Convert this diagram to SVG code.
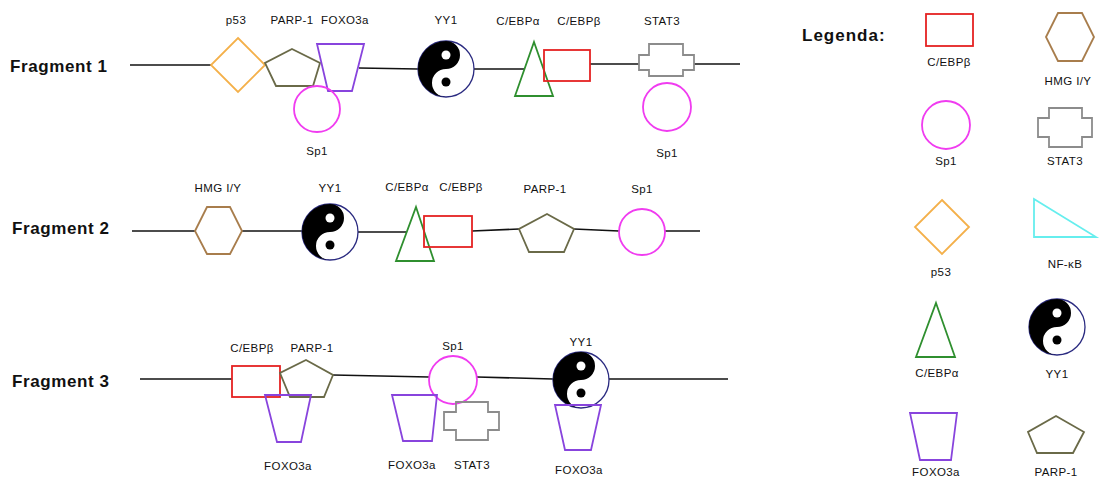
<svg xmlns="http://www.w3.org/2000/svg" xmlns:xlink="http://www.w3.org/1999/xlink" width="1104" height="479" viewBox="0 0 1104 479">
<style>
.lbl{font-family:"Liberation Sans",Arial,sans-serif;font-size:11.5px;text-anchor:middle;fill:#111;letter-spacing:0.4px}
.frag{font-family:"Liberation Sans",Arial,sans-serif;font-size:17px;font-weight:bold;fill:#111;letter-spacing:0.6px}
.leg{font-family:"Liberation Sans",Arial,sans-serif;font-size:17px;font-weight:bold;fill:#111;letter-spacing:1px}
.line{stroke:#111;stroke-width:1.6;fill:none}
.p53{fill:none;stroke:#F4B04A;stroke-width:1.8}
.parp{fill:none;stroke:#6A6A48;stroke-width:1.8}
.foxo{fill:none;stroke:#8844DD;stroke-width:1.8}
.sp1{fill:none;stroke:#F03CF0;stroke-width:1.8}
.cebpa{fill:none;stroke:#2F8F2F;stroke-width:1.8}
.cebpb{fill:none;stroke:#E52222;stroke-width:1.8}
.stat3{fill:none;stroke:#8C8C8C;stroke-width:1.8}
.hmg{fill:none;stroke:#A87D4C;stroke-width:1.8}
.nfkb{fill:none;stroke:#66EEEE;stroke-width:1.8}
</style>
<defs>
<g id="yy">
<circle cx="0" cy="0" r="28" fill="#fff" stroke="#2A2A80" stroke-width="1.3"/>
<path d="M0,-28 A28,28 0 0 0 0,28 A14,14 0 0 1 0,0 A14,14 0 0 0 0,-28 Z" fill="#000"/>
<circle cx="0" cy="-14" r="4.5" fill="#fff"/>
<circle cx="0" cy="13" r="4.5" fill="#000"/>
</g>
</defs>

<g id="connectors">
<polyline class="line" points="130,65 211,65"/>
<polyline class="line" points="359,68 418,69"/>
<polyline class="line" points="474,69 524,69"/>
<polyline class="line" points="590,64 639,64"/>
<polyline class="line" points="694,64 740,64"/>

<polyline class="line" points="132,231 195,231"/>
<polyline class="line" points="242,231 303,231"/>
<polyline class="line" points="358,232 406,232"/>
<polyline class="line" points="472,231 519,229"/>
<polyline class="line" points="574,229 619,231"/>
<polyline class="line" points="665,231 700,231"/>

<polyline class="line" points="140,379 232,379"/>
<polyline class="line" points="333,375 429,377"/>
<polyline class="line" points="477,377 553,379"/>
<polyline class="line" points="609,379 728,379"/>
</g>

<!-- Fragment 1 -->
<g id="fragment1-label"><text class="frag" x="10" y="72">Fragment 1</text></g>
<g id="f1-p53"><polygon class="p53" points="238,38 265,65 238,92 211,65"/><text class="lbl" x="236" y="24">p53</text></g>
<g id="f1-parp1"><polygon class="parp" points="292,49 320,63 313,86 276,86 265,63"/><text class="lbl" x="292" y="24">PARP-1</text></g>
<g id="f1-foxo3a"><polygon class="foxo" points="317,44 364,44 352,91 328,91"/><text class="lbl" x="345" y="24">FOXO3a</text></g>
<g id="f1-sp1"><circle class="sp1" cx="317" cy="109" r="23"/><text class="lbl" x="317" y="155">Sp1</text></g>
<g id="f1-yy1"><use xlink:href="#yy" x="446" y="69"/><text class="lbl" x="446" y="24">YY1</text></g>
<g id="f1-cebpa"><polygon class="cebpa" points="534,42 553,96 515,96"/><text class="lbl" x="518" y="25">C/EBPα</text></g>
<g id="f1-cebpb"><rect class="cebpb" x="544" y="50" width="46" height="31"/><text class="lbl" x="579" y="25">C/EBPβ</text></g>
<g id="f1-stat3"><path class="stat3" d="M649,44 H683 V55 H694 V70 H683 V76 H649 V70 H639 V55 H649 Z"/><text class="lbl" x="662" y="25">STAT3</text></g>
<g id="f1-sp1b"><circle class="sp1" cx="667" cy="107" r="24"/><text class="lbl" x="667" y="157">Sp1</text></g>

<!-- Fragment 2 -->
<g id="fragment2-label"><text class="frag" x="12" y="234">Fragment 2</text></g>
<g id="f2-hmg"><polygon class="hmg" points="195,231 207,207 230,207 242,231 230,254 207,254"/><text class="lbl" x="218" y="192">HMG I/Y</text></g>
<g id="f2-yy1"><use xlink:href="#yy" x="330" y="232"/><text class="lbl" x="330" y="192">YY1</text></g>
<g id="f2-cebpa"><polygon class="cebpa" points="416,207 434,261 396,261"/><text class="lbl" x="407" y="191">C/EBPα</text></g>
<g id="f2-cebpb"><rect class="cebpb" x="424" y="216" width="48" height="31"/><text class="lbl" x="461" y="191">C/EBPβ</text></g>
<g id="f2-parp1"><polygon class="parp" points="547,214 574,229 564,252 529,252 519,229"/><text class="lbl" x="545" y="193">PARP-1</text></g>
<g id="f2-sp1"><circle class="sp1" cx="642" cy="232" r="23"/><text class="lbl" x="642" y="193">Sp1</text></g>

<!-- Fragment 3 -->
<g id="fragment3-label"><text class="frag" x="12" y="387">Fragment 3</text></g>
<g id="f3-cebpb"><rect class="cebpb" x="232" y="366" width="48" height="31"/><text class="lbl" x="252" y="352">C/EBPβ</text></g>
<g id="f3-parp1"><polygon class="parp" points="306,360 333,375 324,397 290,397 280,373"/><text class="lbl" x="312" y="352">PARP-1</text></g>
<g id="f3-foxo3a"><polygon class="foxo" points="265,395 311,395 301,442 277,442"/><text class="lbl" x="288" y="470">FOXO3a</text></g>
<g id="f3-sp1"><circle class="sp1" cx="453" cy="380" r="24"/><text class="lbl" x="453" y="350">Sp1</text></g>
<g id="f3-foxo3a-b"><polygon class="foxo" points="392,395 437,395 432,441 403,441"/><text class="lbl" x="412" y="469">FOXO3a</text></g>
<g id="f3-stat3"><path class="stat3" d="M456,402 H488 V412 H499 V430 H488 V440 H456 V430 H444 V412 H456 Z"/><text class="lbl" x="472" y="469">STAT3</text></g>
<g id="f3-yy1"><use xlink:href="#yy" x="581" y="380"/><text class="lbl" x="581" y="346">YY1</text></g>
<g id="f3-foxo3a-c"><polygon class="foxo" points="555,405 601,405 591,450 565,450"/><text class="lbl" x="579" y="474">FOXO3a</text></g>

<!-- Legend -->
<g id="legend-title"><text class="leg" x="802" y="41">Legenda:</text></g>
<g id="leg-cebpb"><rect class="cebpb" x="926" y="14" width="47" height="32"/><text class="lbl" x="949" y="66">C/EBPβ</text></g>
<g id="leg-hmg"><polygon class="hmg" points="1046,37 1058,13 1082,13 1094,37 1082,61 1058,61"/><text class="lbl" x="1068" y="85">HMG I/Y</text></g>
<g id="leg-sp1"><circle class="sp1" cx="946" cy="125" r="24"/><text class="lbl" x="946" y="165">Sp1</text></g>
<g id="leg-stat3"><path class="stat3" d="M1049,108 H1082 V118 H1092 V137 H1082 V147 H1049 V137 H1038 V118 H1049 Z"/><text class="lbl" x="1065" y="165">STAT3</text></g>
<g id="leg-p53"><polygon class="p53" points="942,200 969,227 942,254 915,227"/><text class="lbl" x="941" y="276">p53</text></g>
<g id="leg-nfkb"><polygon class="nfkb" points="1034,199 1096,237 1034,237"/><text class="lbl" x="1065" y="268">NF-κB</text></g>
<g id="leg-cebpa"><polygon class="cebpa" points="936,303 955,357 916,357"/><text class="lbl" x="937" y="377">C/EBPα</text></g>
<g id="leg-yy1"><use xlink:href="#yy" x="1057" y="327"/><text class="lbl" x="1057" y="378">YY1</text></g>
<g id="leg-foxo3a"><polygon class="foxo" points="910,413 957,413 951,460 920,460"/><text class="lbl" x="936" y="476">FOXO3a</text></g>
<g id="leg-parp1"><polygon class="parp" points="1056,416 1084,432 1073,453 1037,453 1028,432"/><text class="lbl" x="1056" y="476">PARP-1</text></g>
</svg>
